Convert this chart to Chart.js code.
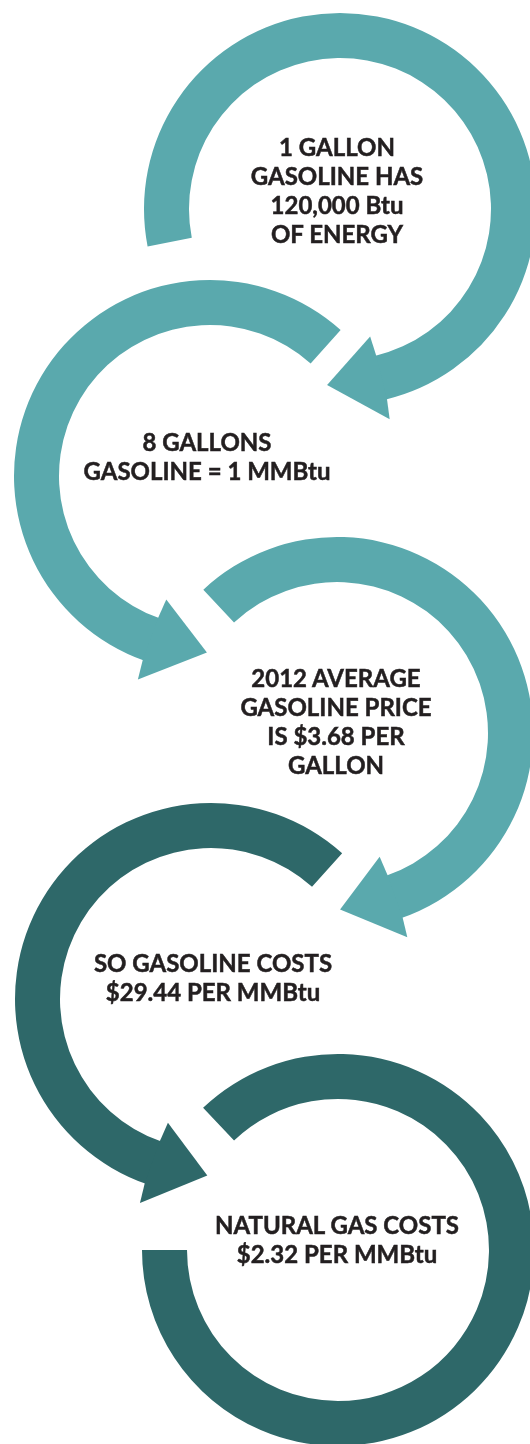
<!DOCTYPE html>
<html>
<head>
<meta charset="utf-8">
<script src="https://cdn.jsdelivr.net/npm/chart.js@4"></script>
<style>
  html, body { margin: 0; padding: 0; background: #fff; }
  #page { position: relative; width: 530px; height: 1444px; overflow: hidden; background: #fff; }
  #page canvas { position: absolute; }
  .step {
    position: absolute;
    transform: translate(-50%, -50%);
    white-space: pre;
    text-align: center;
    font-family: Lato, "Open Sans", sans-serif;
    font-weight: 700;
    font-size: 24px;
    line-height: 29px;
    color: #231f20;
    -webkit-text-stroke: 0.5px #231f20;
  }
</style>
</head>
<body>
<div id="page"></div>
<script>
// the five steps, top to bottom
const stepTexts = [
  "1 GALLON\nGASOLINE HAS\n120,000 Btu\nOF ENERGY",
  "8 GALLONS\nGASOLINE = 1 MMBtu",
  "2012 AVERAGE\nGASOLINE PRICE\nIS $3.68 PER\nGALLON",
  "SO GASOLINE COSTS\n$29.44 PER MMBtu",
  "NATURAL GAS COSTS\n$2.32 PER MMBtu"
];
// where each arrow's tail sits (degrees, 0 = 3 o'clock, clockwise)
const tailAngles = [169, -48.2, 227, -48, 226.5];
// how far the ring body runs, degrees
const arcSweeps = [267.7, 202.3, 204, 202.8, 313.5];
// 1 = clockwise, -1 = counter clockwise, 0 = no arrow head
const turnDirections = [1, -1, 1, -1, 0];
// angle covered by the arrow head beyond the body
const headSweeps = [17.5, 18.5, 18, 18, 0];

// layout only
const ringCenters = [[340, 209], [210, 476], [337, 733], [211, 999], [338, 1250]];
const labelCenters = [[337, 190], [207, 456], [336, 721], [213, 977], [337, 1239]];
const ringColors = ["#5aa9ad", "#5aa9ad", "#5aa9ad", "#2e6869", "#2e6869"];
const SIZE = 460;
const OUTER = 196;
const INNER = 151;

const arrowHead = {
  id: "arrowHead",
  afterDatasetsDraw(chart, args, opts) {
    if (!opts.dir) return;
    const arc = chart.getDatasetMeta(0).data[0];
    const { x, y, startAngle, endAngle, innerRadius, outerRadius } = arc.getProps(
      ["x", "y", "startAngle", "endAngle", "innerRadius", "outerRadius"], true);
    const base = opts.dir > 0 ? endAngle : startAngle;
    const back = base - opts.dir * 0.01;
    const tip = base + opts.dir * opts.sweep * Math.PI / 180;
    const mid = (innerRadius + outerRadius) / 2 + 3;
    const pt = (a, r) => [x + Math.cos(a) * r, y + Math.sin(a) * r];
    const ctx = chart.ctx;
    ctx.save();
    ctx.fillStyle = opts.color;
    ctx.beginPath();
    ctx.moveTo(...pt(base, innerRadius - opts.barb));
    ctx.lineTo(...pt(tip, mid));
    ctx.lineTo(...pt(base, outerRadius + opts.barb));
    ctx.lineTo(...pt(back, outerRadius));
    ctx.lineTo(...pt(back, innerRadius));
    ctx.closePath();
    ctx.fill();
    ctx.restore();
  }
};

const page = document.getElementById("page");

stepTexts.forEach((text, i) => {
  const canvas = document.createElement("canvas");
  canvas.width = SIZE;
  canvas.height = SIZE;
  canvas.style.left = (ringCenters[i][0] - SIZE / 2) + "px";
  canvas.style.top = (ringCenters[i][1] - SIZE / 2) + "px";
  page.appendChild(canvas);

  // chart.js draws slices clockwise, so a ccw arrow starts at its far end
  const dir = turnDirections[i];
  const first = dir < 0 ? tailAngles[i] - arcSweeps[i] : tailAngles[i];

  new Chart(canvas, {
    type: "doughnut",
    data: {
      labels: ["ring", "gap"],
      datasets: [{
        data: [arcSweeps[i], 360 - arcSweeps[i]],
        backgroundColor: [ringColors[i], "rgba(0,0,0,0)"],
        borderWidth: 0,
        hoverOffset: 0
      }]
    },
    options: {
      responsive: false,
      animation: false,
      events: [],
      rotation: first + 90,
      radius: OUTER,
      cutout: (INNER / OUTER * 100) + "%",
      layout: { padding: 0 },
      plugins: {
        legend: { display: false },
        tooltip: { enabled: false },
        arrowHead: { dir: dir, sweep: headSweeps[i], barb: 20, color: ringColors[i] }
      }
    },
    plugins: [arrowHead]
  });

  const label = document.createElement("div");
  label.className = "step";
  label.textContent = text;
  label.style.left = labelCenters[i][0] + "px";
  label.style.top = labelCenters[i][1] + "px";
  page.appendChild(label);
});
</script>
</body>
</html>
